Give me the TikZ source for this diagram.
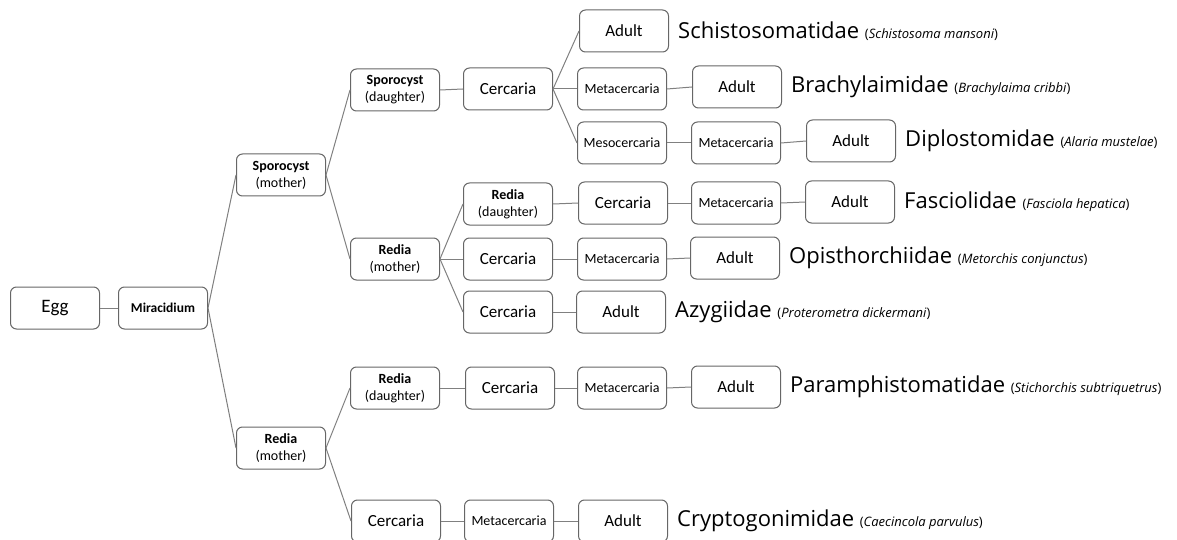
\documentclass[tikz,border=0pt]{standalone}
\usepackage{fontspec}
\setmainfont{Carlito}
\newfontfamily\famfont{Open Sans}
\usetikzlibrary{positioning}

\tikzset{
  stage/.style={draw=black!60, line width=1pt, rounded corners=6pt,
    minimum width=89pt, minimum height=42pt, inner sep=2pt, align=center,
    font=\fontsize{17}{18}\selectfont},
  small/.style={stage, font=\fontsize{14}{16}\selectfont},
  twoline/.style={stage, font=\fontsize{14}{17}\selectfont},
  link/.style={draw=black!50, line width=1pt},
  fam/.style={right=9pt of #1, inner sep=0pt,
    font=\famfont\fontsize{22}{24}\selectfont},
}
\newcommand{\species}[1]{{\fontsize{13}{15}\selectfont(\textit{#1})}}

\begin{document}
\begin{tikzpicture}[x=1pt, y=-1pt]
  \useasboundingbox (0,0) rectangle (1177,540);
  % stem
  \node[stage, font=\fontsize{19}{20}\selectfont] (egg) at (55,308) {Egg};
  \node[small, font=\bfseries\fontsize{13.5}{16}\selectfont] (mir) at (163,308) {Miracidium};
  \node[twoline] (spm) at (281,175) {\textbf{Sporocyst}\\(mother)};
  \node[twoline] (rml) at (281,448) {\textbf{Redia}\\(mother)};
  \node[twoline] (spd) at (395,90) {\textbf{Sporocyst}\\(daughter)};
  \node[twoline] (rmu) at (395,259) {\textbf{Redia}\\(mother)};
  \node[twoline] (rdl) at (395,388) {\textbf{Redia}\\(daughter)};
  \node[stage] (cb) at (396,521) {Cercaria};
  % third column
  \node[stage] (ca) at (508,89) {Cercaria};
  \node[twoline] (rdu) at (508,204) {\textbf{Redia}\\(daughter)};
  \node[stage] (cc) at (508,259) {Cercaria};
  \node[stage] (cd) at (508,312) {Cercaria};
  \node[stage] (ce) at (510,388) {Cercaria};
  \node[small] (mb) at (509,521) {Metacercaria};
  % fourth column
  \node[stage] (ada) at (624,31) {Adult};
  \node[small] (ma) at (622,89) {Metacercaria};
  \node[small] (msa) at (622,143) {Mesocercaria};
  \node[stage] (cf) at (623,203) {Cercaria};
  \node[small] (mc) at (622,259) {Metacercaria};
  \node[stage] (add) at (621,312) {Adult};
  \node[small] (me) at (622,388) {Metacercaria};
  \node[stage] (adb) at (623,521) {Adult};
  % fifth and sixth columns
  \node[stage] (adm) at (737,87) {Adult};
  \node[small] (mm) at (736,143) {Metacercaria};
  \node[small] (mf) at (736,203) {Metacercaria};
  \node[stage] (adc) at (735,258) {Adult};
  \node[stage] (ade) at (736,387) {Adult};
  \node[stage] (adx) at (851,141) {Adult};
  \node[stage] (adf) at (850,202) {Adult};
  % families
  \node[fam=ada] (fs) {Schistosomatidae \species{Schistosoma mansoni}};
  \node[fam=adm] (fb) {Brachylaimidae \species{Brachylaima cribbi}};
  \node[fam=adx] (fd) {Diplostomidae \species{Alaria mustelae}};
  \node[fam=adf] (ff) {Fasciolidae \species{Fasciola hepatica}};
  \node[fam=adc] (fo) {Opisthorchiidae \species{Metorchis conjunctus}};
  \node[fam=add] (fa) {Azygiidae \species{Proterometra dickermani}};
  \node[fam=ade] (fp) {Paramphistomatidae \species{Stichorchis subtriquetrus}};
  \node[fam=adb] (fc) {Cryptogonimidae \species{Caecincola parvulus}};
  % links
  \foreach \a/\b in {egg/mir, mir/spm, mir/rml, spm/spd, spm/rmu,
      spd/ca, ca/ada, ca/ma, ca/msa, ma/adm, msa/mm, mm/adx,
      rmu/rdu, rmu/cc, rmu/cd, rdu/cf, cf/mf, mf/adf,
      cc/mc, mc/adc, cd/add,
      rml/rdl, rml/cb, rdl/ce, ce/me, me/ade, cb/mb, mb/adb}
    \draw[link] (\a.east) -- (\b.west);
\end{tikzpicture}
\end{document}
